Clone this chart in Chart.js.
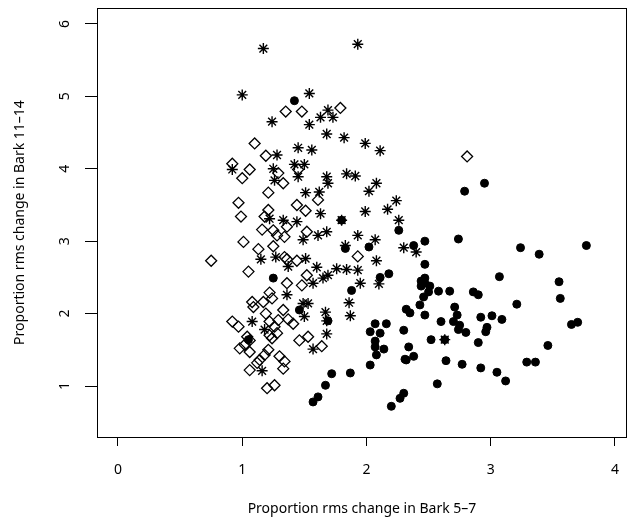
<!DOCTYPE html>
<html>
<head>
<meta charset="utf-8">
<script src="https://cdn.jsdelivr.net/npm/chart.js@4"></script>
<style>
  body { margin: 0; background: #fff; }
  #wrap { width: 628px; height: 520px; }
</style>
</head>
<body>
<div id="wrap"><canvas id="chart" width="628" height="520"></canvas></div>
<script>
// axis ticks
const xTicks = [0, 1, 2, 3, 4];
const yTicks = [1, 2, 3, 4, 5, 6];

// open diamonds
const diamondX = [1.19, 0.92, 1.06, 1.00, 1.29, 1.33, 1.45, 1.21, 0.97, 0.99, 1.21, 1.44, 1.51, 1.18, 1.25, 1.36,
  1.28, 1.34, 1.16, 1.52, 1.01, 1.13, 1.25, 1.36, 0.75, 1.05, 1.52, 1.61, 1.93, 1.10, 1.35, 1.48, 1.79, 2.81,
  1.36, 1.48, 1.22, 1.24, 1.08, 1.09, 1.17, 1.33, 1.19, 0.92, 0.97, 1.22, 1.29, 1.37, 1.41, 1.26, 1.22, 1.28,
  1.24, 1.04, 1.06, 1.02, 0.98, 1.06, 1.46, 1.53, 1.21, 1.18, 1.14, 1.12, 1.30, 1.34, 1.33, 1.06, 1.20, 1.26,
  1.64, 1.34, 1.44];
const diamondY = [4.18, 4.07, 3.99, 3.87, 3.94, 3.80, 3.99, 3.67, 3.53, 3.34, 3.43, 3.50, 3.42, 3.34, 3.15, 3.20,
  3.08, 3.06, 3.16, 3.13, 2.99, 2.89, 2.93, 2.75, 2.73, 2.58, 2.53, 3.57, 2.79, 4.35, 4.79, 4.79, 4.84, 4.17,
  2.42, 2.39, 2.29, 2.21, 2.16, 2.09, 2.16, 2.05, 2.00, 1.89, 1.82, 1.89, 1.91, 1.92, 1.86, 1.82, 1.70, 1.73,
  1.66, 1.68, 1.63, 1.57, 1.52, 1.47, 1.63, 1.68, 1.50, 1.43, 1.36, 1.32, 1.41, 1.34, 1.24, 1.22, 0.97, 1.01,
  1.55, 2.78, 2.73];

// asterisks
const starX = [1.17, 1.93, 1.00, 1.54, 1.24, 1.54, 1.69, 1.63, 1.73, 1.68, 1.82, 1.99, 2.11, 1.45, 1.56, 1.28,
  0.92, 1.25, 1.26, 1.42, 1.50, 1.45, 1.68, 1.69, 1.84, 1.91, 2.08, 2.02, 1.51, 1.62, 2.24, 2.17, 1.63, 1.80,
  1.99, 2.26, 1.93, 2.07, 1.83, 2.30, 2.40, 1.61, 1.68, 1.49, 1.22, 1.33, 1.44, 2.08, 1.51, 1.60, 1.76, 1.84,
  1.93, 1.15, 1.27, 1.37, 1.95, 2.10, 1.86, 1.87, 1.68, 1.57, 1.57, 1.36, 1.49, 1.53, 1.50, 1.08, 1.18, 1.16,
  2.63, 1.68, 1.67, 1.69, 1.65];
const starY = [5.66, 5.72, 5.02, 5.04, 4.65, 4.61, 4.81, 4.71, 4.71, 4.48, 4.43, 4.35, 4.25, 4.29, 4.26, 4.19,
  3.99, 4.00, 3.84, 4.06, 4.06, 3.89, 3.89, 3.80, 3.93, 3.90, 3.80, 3.69, 3.67, 3.68, 3.56, 3.44, 3.38, 3.29,
  3.41, 3.29, 3.08, 3.02, 2.94, 2.91, 2.85, 3.08, 3.13, 3.02, 3.31, 3.29, 3.27, 2.73, 2.76, 2.64, 2.62, 2.61,
  2.60, 2.75, 2.78, 2.65, 2.42, 2.41, 2.15, 1.97, 1.72, 1.51, 2.42, 2.26, 2.14, 2.14, 1.96, 1.89, 1.78, 1.21,
  1.64, 1.90, 2.02, 2.53, 2.49];

// filled circles
const circleX = [1.42, 1.80, 1.83, 2.02, 2.26, 1.88, 1.25, 1.46, 1.05, 1.69, 2.11, 2.18, 2.95, 2.79, 2.74, 3.24,
  2.38, 2.47, 2.47, 2.47, 3.07, 2.44, 2.47, 2.51, 2.44, 2.50, 2.46, 2.58, 2.67, 2.86, 2.90, 3.21, 2.32, 2.35,
  2.43, 2.47, 2.71, 2.73, 2.70, 2.75, 2.74, 2.60, 2.80, 2.92, 3.01, 3.09, 2.97, 2.96, 2.63, 2.52, 2.90, 2.38,
  2.32, 2.64, 2.77, 2.92, 3.05, 3.12, 3.29, 3.36, 2.57, 3.39, 3.77, 3.55, 3.56, 3.65, 3.70, 3.46, 2.07, 2.16,
  2.03, 2.11, 2.07, 2.07, 2.14, 2.08, 2.03, 2.30, 2.34, 2.31, 1.72, 1.87, 1.67, 1.61, 1.57, 2.30, 2.27, 2.20];
const circleY = [4.94, 3.29, 2.90, 2.92, 3.15, 2.32, 2.49, 2.05, 1.64, 1.90, 2.50, 2.55, 3.80, 3.69, 3.03, 2.91,
  2.94, 3.00, 2.68, 2.49, 2.51, 2.45, 2.42, 2.38, 2.38, 2.30, 2.23, 2.31, 2.31, 2.30, 2.26, 2.13, 2.06, 2.01,
  2.12, 1.98, 2.09, 1.98, 1.89, 1.84, 1.78, 1.89, 1.74, 1.95, 1.97, 1.92, 1.81, 1.75, 1.64, 1.64, 1.60, 1.41,
  1.36, 1.35, 1.30, 1.25, 1.19, 1.07, 1.33, 1.33, 1.03, 2.82, 2.94, 2.44, 2.21, 1.85, 1.88, 1.56, 1.86, 1.86,
  1.75, 1.73, 1.62, 1.54, 1.51, 1.43, 1.29, 1.77, 1.54, 1.37, 1.17, 1.18, 1.01, 0.85, 0.78, 0.90, 0.83, 0.72];

function toPoints(xs, ys) {
    return xs.map((x, i) => ({ x: x, y: ys[i] }));
}

const fontFamily = "'Noto Sans', 'Open Sans', sans-serif";

// box around the plotting region, like R's box()
const boxPlugin = {
    id: "plotBox",
    afterDatasetsDraw(chart) {
        const a = chart.chartArea;
        const ctx = chart.ctx;
        ctx.save();
        ctx.strokeStyle = "#000";
        ctx.lineWidth = 1;
        ctx.strokeRect(a.left + 0.5, a.top + 0.5, a.right - a.left - 1, a.bottom - a.top);
        ctx.restore();
    }
};

new Chart(document.getElementById("chart").getContext("2d"), {
    type: "scatter",
    data: {
        datasets: [
            {
                label: "diamonds",
                data: toPoints(diamondX, diamondY),
                pointStyle: "rectRot",
                pointRadius: 5.5,
                borderWidth: 1.3,
                borderColor: "#000",
                backgroundColor: "rgba(0,0,0,0)"
            },
            {
                label: "asterisks",
                data: toPoints(starX, starY),
                pointStyle: "star",
                pointRadius: 5.5,
                borderWidth: 1.4,
                borderColor: "#000",
                backgroundColor: "#000"
            },
            {
                label: "circles",
                data: toPoints(circleX, circleY),
                pointStyle: "circle",
                pointRadius: 4,
                borderWidth: 1,
                borderColor: "#000",
                backgroundColor: "#000"
            }
        ]
    },
    options: {
        responsive: false,
        animation: false,
        layout: { autoPadding: false, padding: { top: 8, right: 1, left: 0, bottom: 0 } },
        plugins: {
            legend: { display: false },
            tooltip: { enabled: false }
        },
        scales: {
            x: {
                type: "linear",
                min: -0.169,
                max: 4.097,
                afterBuildTicks: scale => { scale.ticks = xTicks.map(v => ({ value: v })); },
                afterFit: scale => {
                    scale.height = 83;
                    scale.paddingLeft = 0;
                    scale.paddingRight = 0;
                },
                border: { display: false },
                grid: { drawOnChartArea: false, drawTicks: true, tickLength: 9, color: "#000", lineWidth: 1 },
                ticks: {
                    color: "#000",
                    padding: 16,
                    maxRotation: 0,
                    font: { family: fontFamily, size: 14 }
                },
                title: {
                    display: true,
                    text: "Proportion rms change in Bark 5\u20137",
                    color: "#000",
                    padding: { top: 0, bottom: 3 },
                    font: { family: fontFamily, size: 14 }
                }
            },
            y: {
                type: "linear",
                min: 0.296,
                max: 6.22,
                afterBuildTicks: scale => { scale.ticks = yTicks.map(v => ({ value: v })); },
                afterFit: scale => {
                    scale.width = 97;
                    scale.paddingTop = 0;
                    scale.paddingBottom = 0;
                },
                border: { display: false },
                grid: { drawOnChartArea: false, drawTicks: true, tickLength: 12, color: "#000", lineWidth: 1 },
                ticks: {
                    color: "#000",
                    padding: 16,
                    minRotation: 90,
                    maxRotation: 90,
                    crossAlign: "center",
                    font: { family: fontFamily, size: 14 }
                },
                title: {
                    display: true,
                    text: "Proportion rms change in Bark 11\u201314",
                    color: "#000",
                    padding: { top: 12, bottom: 0 },
                    font: { family: fontFamily, size: 14 }
                }
            }
        }
    },
    plugins: [boxPlugin]
});
</script>
</body>
</html>
